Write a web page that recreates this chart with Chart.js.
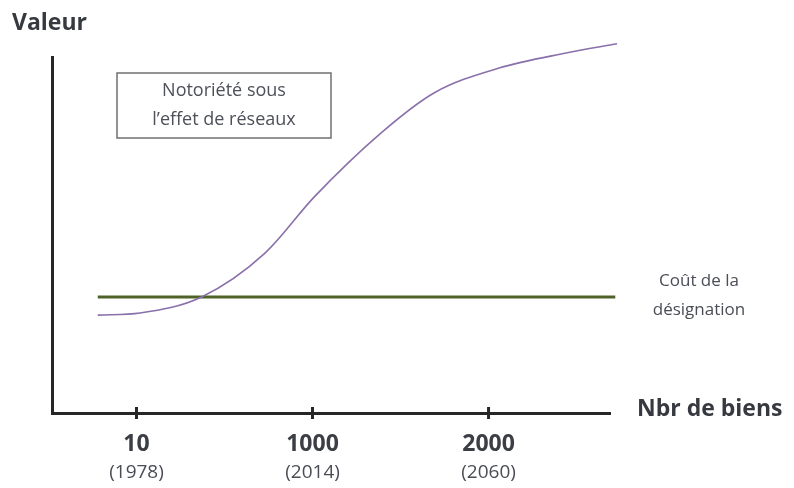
<!DOCTYPE html>
<html>
<head>
<meta charset="utf-8">
<script src="https://cdn.jsdelivr.net/npm/chart.js@4"></script>
<style>
  html, body { margin: 0; padding: 0; background: #fff; }
  #wrap { width: 794px; height: 488px; }
</style>
</head>
<body>
<div id="wrap"><canvas id="chart"></canvas></div>
<script>
// positions on the x axis: 1 = 10 biens, 2 = 1000, 3 = 2000
const xTicks = [1, 2, 3];
const tickLabels = ["10", "1000", "2000"];
const tickYears = ["(1978)", "(2014)", "(2060)"];

// notoriété (courbe en S), valeur 0-100 = hauteur de l'axe
const curveX = [0.78, 1.02, 1.37, 1.73, 2.01, 2.39, 2.69, 3.06, 3.44, 3.73];
const curveY = [27.5, 28.1, 32.6, 44.9, 60.7, 78.7, 89.9, 96.9, 101.1, 103.7];

// coût de la désignation (constant)
const costX = [0.78, 3.72];
const costY = [32.6, 32.6];

const FONT = "'Open Sans', Lato, sans-serif";

const toPoints = (xs, ys) => xs.map((x, i) => ({ x: x, y: ys[i] }));

// axes decorations, tick labels and annotations
const decor = {
  id: "decor",
  afterDraw(chart) {
    const ctx = chart.ctx;
    const xs = chart.scales.x;
    const ys = chart.scales.y;
    const area = chart.chartArea;
    ctx.save();

    // tick marks crossing the x axis
    ctx.strokeStyle = "#262626";
    ctx.lineWidth = 3;
    xTicks.forEach((t) => {
      const px = xs.getPixelForValue(t);
      ctx.beginPath();
      ctx.moveTo(px, area.bottom - 6);
      ctx.lineTo(px, area.bottom + 6);
      ctx.stroke();
    });

    // tick labels
    ctx.textAlign = "center";
    ctx.textBaseline = "middle";
    xTicks.forEach((t, i) => {
      const px = xs.getPixelForValue(t);
      ctx.fillStyle = "#3b3e44";
      ctx.font = "bold 23px " + FONT;
      ctx.fillText(tickLabels[i], px, area.bottom + 31);
      ctx.fillStyle = "#4a4d55";
      ctx.font = "19px " + FONT;
      ctx.fillText(tickYears[i], px, area.bottom + 60);
    });

    // axis titles
    ctx.fillStyle = "#363a40";
    ctx.font = "bold 23px " + FONT;
    ctx.textAlign = "left";
    ctx.fillText("Valeur", 12, 23);
    ctx.fillText("Nbr de biens", 637, area.bottom - 4);

    // label of the cost line
    const cy = ys.getPixelForValue(costY[0]);
    ctx.fillStyle = "#4a4d55";
    ctx.font = "17px " + FONT;
    ctx.textAlign = "center";
    ctx.fillText("Coût de la", 699, cy - 16);
    ctx.fillText("désignation", 699, cy + 13);

    // text box
    ctx.strokeStyle = "#707070";
    ctx.lineWidth = 1.5;
    ctx.strokeRect(117, 73, 214, 65);
    ctx.fillStyle = "#4d5058";
    ctx.font = "18px " + FONT;
    ctx.fillText("Notoriété sous", 224, 91);
    ctx.fillText("l’effet de réseaux", 224, 120);

    ctx.restore();
  }
};

new Chart(document.getElementById("chart"), {
  type: "line",
  data: {
    datasets: [
      {
        label: "Notoriété sous l’effet de réseaux",
        data: toPoints(curveX, curveY),
        borderColor: "#8a70aa",
        borderWidth: 1.6,
        pointRadius: 0,
        cubicInterpolationMode: "monotone",
        fill: false,
        clip: false,
      },
      {
        label: "Coût de la désignation",
        data: toPoints(costX, costY),
        borderColor: "#4f6228",
        borderWidth: 3,
        pointRadius: 0,
        fill: false,
        clip: false,
      },
    ],
  },
  options: {
    responsive: true,
    maintainAspectRatio: false,
    animation: false,
    layout: { padding: { left: 52, right: 184, top: 57, bottom: 75 } },
    plugins: {
      legend: { display: false },
      tooltip: { enabled: false },
    },
    scales: {
      x: {
        type: "linear",
        min: 0.52,
        max: 3.69,
        grid: { display: false, drawTicks: false },
        border: { display: true, color: "#262626", width: 3 },
        ticks: { display: false },
      },
      y: {
        type: "linear",
        min: 0,
        max: 100,
        grid: { display: false, drawTicks: false },
        border: { display: true, color: "#262626", width: 3 },
        ticks: { display: false },
      },
    },
  },
  plugins: [decor],
});
</script>
</body>
</html>
